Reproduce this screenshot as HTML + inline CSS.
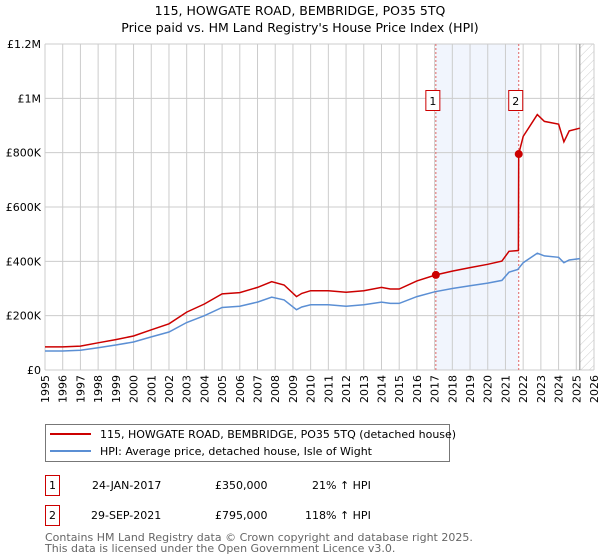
<!DOCTYPE html>
<html><head><meta charset="utf-8">
<style>
body{margin:0;background:#fff;}
svg{display:block;font-family:"DejaVu Sans","Liberation Sans",sans-serif;}
</style></head>
<body>
<svg id="chart" width="600" height="560" viewBox="0 0 600 560">
<defs>
<pattern id="hatch" patternUnits="userSpaceOnUse" width="6" height="6" patternTransform="rotate(45)">
<line x1="0" y1="0" x2="0" y2="6" stroke="#ccc" stroke-width="1"/>
</pattern>
</defs>
<text x="300" y="15" text-anchor="middle" font-size="12.5">115, HOWGATE ROAD, BEMBRIDGE, PO35 5TQ</text>
<text x="300" y="32" text-anchor="middle" font-size="12.5">Price paid vs. HM Land Registry's House Price Index (HPI)</text>
<g id="plot"></g>
<g>
<rect x="45.5" y="424.5" width="404" height="37" fill="#fff" stroke="#777"/>
<line x1="50" y1="434" x2="91" y2="434" stroke="#cc0000" stroke-width="2"/>
<text x="100" y="438" font-size="11">115, HOWGATE ROAD, BEMBRIDGE, PO35 5TQ (detached house)</text>
<line x1="50" y1="451" x2="91" y2="451" stroke="#5b8fd4" stroke-width="2"/>
<text x="100" y="455" font-size="11">HPI: Average price, detached house, Isle of Wight</text>
</g>
<g font-size="11">
<rect x="45.5" y="475.5" width="14" height="20" fill="#fff" stroke="#cc0000"/>
<text x="52.5" y="489" text-anchor="middle">1</text>
<text x="92" y="489">24-JAN-2017</text>
<text x="215" y="489">£350,000</text>
<text x="312" y="489">21% ↑ HPI</text>
</g>
<g font-size="11">
<rect x="45.5" y="505.5" width="14" height="20" fill="#fff" stroke="#cc0000"/>
<text x="52.5" y="519" text-anchor="middle">2</text>
<text x="91" y="519">29-SEP-2021</text>
<text x="215" y="519">£795,000</text>
<text x="305" y="519">118% ↑ HPI</text>
</g>
<text x="45" y="541" font-size="11" fill="#666">Contains HM Land Registry data © Crown copyright and database right 2025.</text>
<text x="45" y="552" font-size="11" fill="#666">This data is licensed under the Open Government Licence v3.0.</text>
</svg>
<script>
const yTicks = [0, 200000, 400000, 600000, 800000, 1000000, 1200000];
const yTickLabels = ["£0", "£200K", "£400K", "£600K", "£800K", "£1M", "£1.2M"];
const xYears = [1995,1996,1997,1998,1999,2000,2001,2002,2003,2004,2005,2006,2007,2008,2009,2010,2011,2012,2013,2014,2015,2016,2017,2018,2019,2020,2021,2022,2023,2024,2025,2026];
const hpiDates = [1995,1996,1997,1998,1999,2000,2001,2002,2003,2004,2005,2006,2007,2007.8,2008.5,2009.2,2009.5,2010,2011,2012,2013,2014,2014.5,2015,2016,2017,2018,2019,2020,2020.8,2021.2,2021.7,2022,2022.8,2023.2,2024,2024.3,2024.6,2025.2];
const hpiValues = [70000,70000,73000,82000,92000,103000,122000,140000,175000,200000,230000,235000,250000,268000,258000,222000,232000,240000,240000,235000,240000,250000,245000,245000,270000,288000,300000,310000,320000,330000,360000,370000,395000,430000,420000,415000,395000,405000,410000];
const paidDates = [1995,1996,1997,1998,1999,2000,2001,2002,2003,2004,2005,2006,2007,2007.8,2008.5,2009.2,2009.5,2010,2011,2012,2013,2014,2014.5,2015,2016,2017.07,2018,2019,2020,2020.8,2021.2,2021.73,2021.75,2022,2022.8,2023.2,2024,2024.3,2024.6,2025.2];
const paidValues = [85000,85000,88000,100000,112000,125000,148000,170000,213000,243000,280000,285000,304000,325000,313000,270000,282000,292000,292000,286000,292000,304000,298000,298000,328000,350000,364000,377000,389000,401000,437000,440000,795000,860000,940000,915000,905000,840000,880000,890000];
const saleDates = [2017.07, 2021.75];
const saleValues = [350000, 795000];
const saleLabels = ["1", "2"];

const X0=45, X1=594, Y0=370, Y1=44;
const xs = v => X0 + (v-1995)/(2026-1995)*(X1-X0);
const ys = v => Y0 - v/1200000*(Y0-Y1);
const NS="http://www.w3.org/2000/svg";
const plot=document.getElementById('plot');
function mk(tag, attrs, parent){const e=document.createElementNS(NS,tag);for(const k in attrs)e.setAttribute(k,attrs[k]);(parent||plot).appendChild(e);return e;}

let sh=mk('rect',{x:xs(saleDates[0]),y:Y1,width:xs(saleDates[1])-xs(saleDates[0]),height:Y0-Y1,fill:'#eef3fc',opacity:0.8});


let ht=mk('rect',{x:xs(2025.2),y:Y1,width:X1-xs(2025.2),height:Y0-Y1,fill:'url(#hatch)'});


yTicks.forEach((t,i)=>{
  let g=mk('line',{x1:X0,x2:X1,y1:ys(t),y2:ys(t),stroke:'#ccc','stroke-width':1});
  
  
  let l=mk('text',{x:X0-4,y:ys(t)+4,'text-anchor':'end','font-size':11});
  l.textContent=yTickLabels[i];
  
  
});
xYears.forEach(yr=>{
  let g=mk('line',{x1:xs(yr),x2:xs(yr),y1:Y1,y2:Y0,stroke:'#ccc','stroke-width':1});
  
  
  let l=mk('text',{x:0,y:0,'text-anchor':'end','font-size':11,transform:`translate(${xs(yr)+4},${Y0+5}) rotate(-90)`});
  l.textContent=yr;
  
  
});
let nl=mk('line',{x1:xs(2025.2),x2:xs(2025.2),y1:Y1,y2:Y0,stroke:'#888','stroke-width':1});


saleDates.forEach(d=>{
  let v=mk('line',{x1:xs(d),x2:xs(d),y1:Y1,y2:Y0,stroke:'#e06666','stroke-width':1,'stroke-dasharray':'2,2'});
  
  
});
function pts(d,v){return d.map((x,i)=>xs(x).toFixed(1)+','+ys(v[i]).toFixed(1)).join(' ');}
let hl=mk('polyline',{points:pts(hpiDates,hpiValues),fill:'none',stroke:'#5b8fd4','stroke-width':1.5});


let pl=mk('polyline',{points:pts(paidDates,paidValues),fill:'none',stroke:'#cc0000','stroke-width':1.5});


saleDates.forEach((d,i)=>{
  let c=mk('circle',{cx:xs(d),cy:ys(saleValues[i]),r:4,fill:'#cc0000'});
  
  
  let bx=xs(d)-10, by=Y1+46;
  let r=mk('rect',{x:bx,y:by+0.5,width:14,height:20,fill:'#fff',stroke:'#cc0000'});
  
  
  let t=mk('text',{x:bx+7,y:by+15,'text-anchor':'middle','font-size':11});
  t.textContent=saleLabels[i];
  
  
});
</script>
</body></html>
